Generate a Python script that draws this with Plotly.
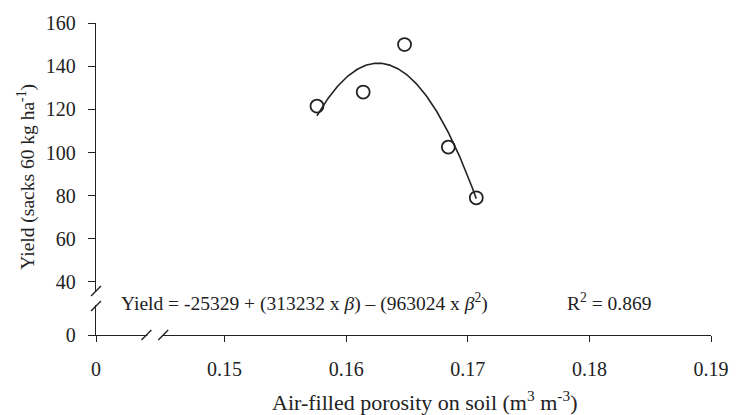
import numpy as np
import plotly.graph_objects as go

porosity = [0.1576, 0.1614, 0.1648, 0.1684, 0.1707]
yield_obs = [121.5, 128.0, 150.0, 102.5, 79.0]

# Fitted quadratic as printed on the chart
coef = [-25329, 313232, -963024]

# Axis ticks (broken axes: "0" is placed just before the break)
x_fake_zero = 0.13943
y_fake_zero = 15.44
x_tickvals = [x_fake_zero, 0.15, 0.16, 0.17, 0.18, 0.19]
x_ticktext = ["0", "0.15", "0.16", "0.17", "0.18", "0.19"]
y_tickvals = [y_fake_zero, 40, 60, 80, 100, 120, 140, 160]
y_ticktext = ["0", "40", "60", "80", "100", "120", "140", "160"]

W, H = 741, 415
L, R, T, B = 96, 23, 23, 80
pw, ph = W - L - R, H - T - B

def px(x):
    return (x - L) / pw

def py(y):
    return (H - B - y) / ph

beta = np.linspace(min(porosity), max(porosity), 200)
fit = coef[0] + coef[1] * beta + coef[2] * beta ** 2

FONT = "Liberation Serif, Times New Roman, serif"
INK = "#222222"

fig = go.Figure()
fig.add_trace(go.Scatter(x=beta, y=fit, mode="lines",
                         line=dict(color=INK, width=1.6), showlegend=False))
fig.add_trace(go.Scatter(x=porosity, y=yield_obs, mode="markers",
                         marker=dict(symbol="circle-open", size=13,
                                     color=INK, line=dict(width=1.8)),
                         showlegend=False))

shapes = []
# white gaps on axis lines
shapes.append(dict(type="rect", xref="paper", yref="paper", layer="above",
                   x0=px(92), x1=px(100), y0=py(305), y1=py(292),
                   fillcolor="white", line=dict(width=0)))
shapes.append(dict(type="rect", xref="paper", yref="paper", layer="above",
                   x0=px(148), x1=px(163), y0=py(338), y1=py(332),
                   fillcolor="white", line=dict(width=0)))
# slashes
for cy in (291, 306):
    shapes.append(dict(type="line", xref="paper", yref="paper", layer="above",
                       x0=px(91), y0=py(cy + 5), x1=px(101), y1=py(cy - 5),
                       line=dict(color=INK, width=1.4)))
for cx in (147, 164):
    shapes.append(dict(type="line", xref="paper", yref="paper", layer="above",
                       x0=px(cx - 5), y0=py(340), x1=px(cx + 5), y1=py(330),
                       line=dict(color=INK, width=1.4)))

annotations = [
    dict(text="Yield = -25329 + (313232 x <i>β</i>) – (963024 x <i>β</i><sup>2</sup>)",
         xref="paper", yref="paper", x=px(119), y=py(302), xanchor="left",
         yanchor="middle", showarrow=False, font=dict(family=FONT, size=19.5, color=INK)),
    dict(text="R<sup>2</sup> = 0.869",
         xref="paper", yref="paper", x=px(570), y=py(302), xanchor="left",
         yanchor="middle", showarrow=False, font=dict(family=FONT, size=19.5, color=INK)),
    dict(text="Air-filled porosity on soil (m<sup>3</sup> m<sup>-3</sup>)",
         xref="paper", yref="paper", x=px(428), y=py(401), xanchor="center",
         yanchor="middle", showarrow=False, font=dict(family=FONT, size=22, color=INK)),
    dict(text="Yield (sacks 60 kg ha<sup>-1</sup>)", textangle=-90,
         xref="paper", yref="paper", x=px(25), y=py(177), xanchor="center",
         yanchor="middle", showarrow=False, font=dict(family=FONT, size=19.5, color=INK)),
]

fig.update_layout(
    width=W, height=H,
    margin=dict(l=L, r=R, t=T, b=B),
    paper_bgcolor="white", plot_bgcolor="white",
    font=dict(family=FONT, color=INK),
    shapes=shapes, annotations=annotations,
    xaxis=dict(range=[x_fake_zero, 0.19], tickvals=x_tickvals, ticktext=x_ticktext,
               showgrid=False, zeroline=False, showline=True, linecolor=INK, linewidth=1.4,
               ticks="outside", ticklen=6, tickwidth=1.4, tickcolor=INK,
               tickfont=dict(family=FONT, size=20, color=INK), ticklabelstandoff=10),
    yaxis=dict(range=[y_fake_zero, 160], tickvals=y_tickvals, ticktext=y_ticktext,
               showgrid=False, zeroline=False, showline=True, linecolor=INK, linewidth=1.4,
               ticks="outside", ticklen=7, tickwidth=1.4, tickcolor=INK,
               tickfont=dict(family=FONT, size=20, color=INK), ticklabelstandoff=8),
)

fig.write_html("out.html")
